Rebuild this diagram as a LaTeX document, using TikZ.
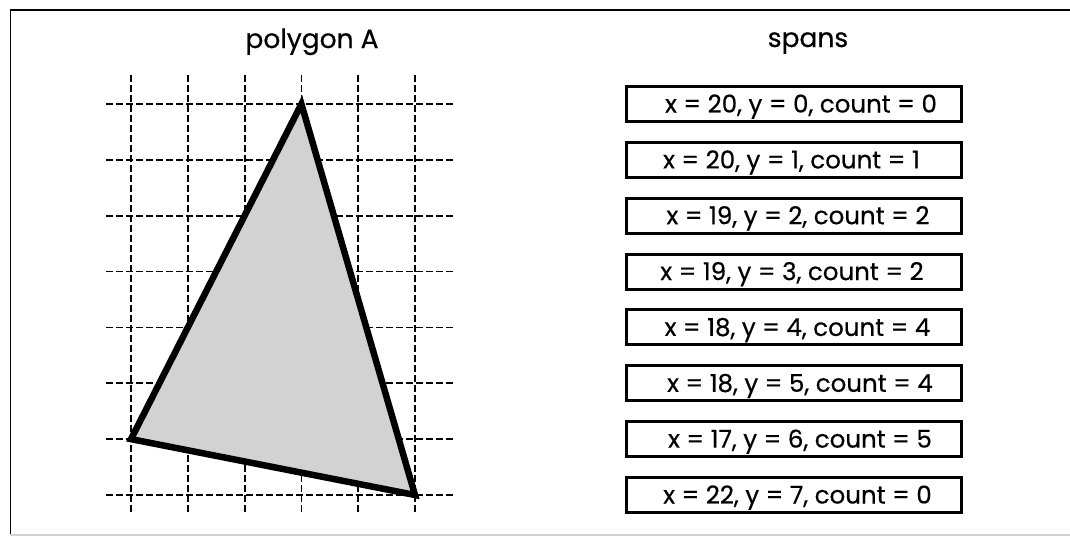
\documentclass[tikz,border=0pt]{standalone}
\usepackage{fontspec}
\setmainfont{Poppins}
\newfontfamily\lblfont{Poppins}[FakeBold=0.5]
\newcommand{\lpad}[1]{\hspace*{#1}}
\begin{document}
\begin{tikzpicture}[x=1pt,y=-1pt,
  gridline/.style={line width=1.8pt, dash pattern=on 6.5pt off 3.5pt},
  tri/.style={draw=black, line width=6.5pt, line join=miter, fill=gray!35},
  spanbox/.style={draw, line width=3pt, minimum width=335pt, minimum height=35pt,
    inner sep=0pt, text height=17pt, text depth=0pt, font=\lblfont\fontsize{24.5}{28}\selectfont},
  title/.style={anchor=base, inner sep=0pt, font=\lblfont\fontsize{26.5}{30}\selectfont}]
\useasboundingbox (0,0) rectangle (1070,536);
% frame
\draw[line width=1.6pt] (10.3,536) -- (10.3,9.7) -- (1070,9.7);
\draw[gray!35, line width=1.2pt] (10.3,535) -- (1070,535);
% grid
\foreach \i in {0,...,5}
  \draw[gridline] ({131+56.8*\i},75) -- ({131+56.8*\i},513);
\foreach \j in {0,...,7}
  \draw[gridline] (106,{104+55.857*\j}) -- (453,{104+55.857*\j});
% polygon
\coordinate (A) at (301.4,104);
\coordinate (B) at (131,439.1);
\coordinate (C) at (415,495);
\draw[tri] (A) -- (B) -- (C) -- cycle;
% titles
\node[title] (t1) at (312,48) {polygon A};
\node[title] (t2) at (808,47) {spans};
% spans
\node[spanbox] (s0) at (793.5,104.0) {\lpad{15pt}x = 20, y = 0, count = 0};
\node[spanbox] (s1) at (793.5,159.9) {x = 20, y = 1, count = 1\lpad{4pt}};
\node[spanbox] (s2) at (793.5,215.7) {\lpad{9pt}x = 19, y = 2, count = 2};
\node[spanbox] (s3) at (793.5,271.6) {x = 19, y = 3, count = 2\lpad{3pt}};
\node[spanbox] (s4) at (793.5,327.4) {\lpad{8pt}x = 18, y = 4, count = 4};
\node[spanbox] (s5) at (793.5,383.3) {\lpad{13pt}x = 18, y = 5, count = 4};
\node[spanbox] (s6) at (793.5,439.1) {\lpad{13pt}x = 17, y = 6, count = 5};
\node[spanbox] (s7) at (793.5,495.0) {\lpad{8pt}x = 22, y = 7, count = 0};
\end{tikzpicture}
\end{document}
